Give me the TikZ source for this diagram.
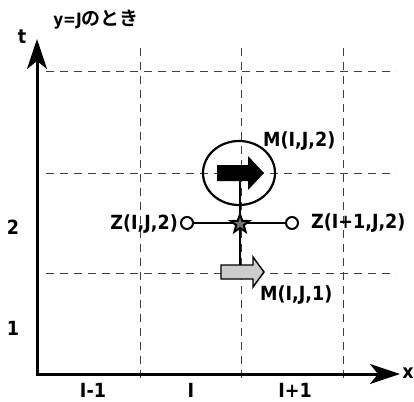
\documentclass[tikz,border=0pt]{standalone}
\usepackage{fontspec}
\setmainfont{DejaVu Sans Condensed}[BoldFont={DejaVu Sans Condensed Bold}]
\newfontfamily\jp{Noto Sans CJK JP}[BoldFont={Noto Sans CJK JP Bold}]
\usetikzlibrary{arrows.meta,shapes.geometric}
\begin{document}
\begin{tikzpicture}[x=1pt,y=-1pt,
  lbl/.style={font=\fontsize{19.5}{20}\selectfont\bfseries, inner sep=0pt},
  gridline/.style={dash pattern=on 8pt off 6pt, line width=1pt, draw=black!75},
  axisline/.style={line width=3pt, {Stealth[length=30pt,width=20pt,inset=8pt]}-{Stealth[length=30pt,width=20pt,inset=8pt]}},
  thick2/.style={line width=2pt},
  ring/.style={circle, draw, line width=2pt, fill=white, minimum size=12pt, inner sep=0pt},
]
\useasboundingbox (0,0) rectangle (414,401);
% grid
\foreach \y in {72,173,273} \draw[gridline] (46,\y) -- (396,\y);
\foreach \x in {140,241,343} \draw[gridline] (\x,48) -- (\x,379);
% axes
\coordinate (O) at (37,374);
\coordinate (xend) at (400,374);
\coordinate (tend) at (37,39);
\draw[axisline, line join=miter] (tend) -- (O) -- (xend);
% labels
\node[lbl, font=\fontsize{17}{18}\selectfont\bfseries] (title) at (96,20) {y=J{\jp\bfseries\fontsize{19}{19}\selectfont のとき}};
\node[lbl] (tlab) at (22,37) {t};
\node[lbl] (xlab) at (408,373) {x};
\node[lbl] (t1) at (13,328) {1};
\node[lbl] (t2) at (13,227) {2};
\node[lbl] (xim) at (93,390) {I-1};
\node[lbl] (xi) at (191,390) {I};
\node[lbl] (xip) at (295,390) {I+1};
% M(I,J,2)
\node[ellipse, draw, line width=2.2pt, minimum width=72pt, minimum height=64pt, inner sep=0pt] (mc) at (239,173) {};
\coordinate (gtop) at (240,265);
\draw[thick2] (240,173) -- (gtop);
\fill[black] (217,165) -- (248,165) -- (248,156) -- (264,173) -- (248,190) -- (248,181) -- (217,181) -- cycle;
\node[lbl, anchor=west] (m2) at (263,141) {M(I,J,2)};
% Z line
\node[ring] (zl) at (187,223) {};
\node[ring] (zr) at (292,223) {};
\draw[thick2] (zl) -- (zr);
\node[star, star points=5, star point ratio=2.4, draw, line width=2pt, fill=black!55, minimum size=19pt, inner sep=0pt] (st) at (240,224) {};
\node[lbl, anchor=east] (zlt) at (178,224) {Z(I,J,2)};
\node[lbl, anchor=west] (zrt) at (311,223) {Z(I+1,J,2)};
% M(I,J,1)
\filldraw[fill=black!20, draw=black, line width=1.4pt, line join=miter] (221,265) -- (253,265) -- (253,257) -- (264,272) -- (253,287) -- (253,279) -- (221,279) -- cycle;
\node[lbl, anchor=west] (m1) at (260,295) {M(I,J,1)};
\end{tikzpicture}
\end{document}
